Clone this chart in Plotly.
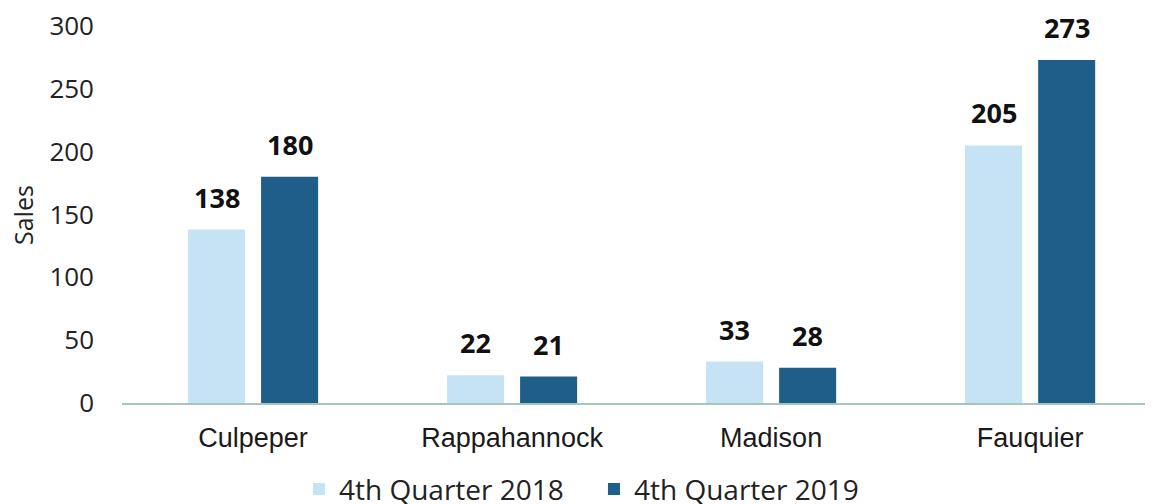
import plotly.graph_objects as go

categories = ["Culpeper", "Rappahannock", "Madison", "Fauquier"]
q4_2018 = [138, 22, 33, 205]
q4_2019 = [180, 21, 28, 273]
series_names = ["4th Quarter 2018", "4th Quarter 2019"]
colors = ["#c6e3f5", "#1e5e88"]
y_ticks = [0, 50, 100, 150, 200, 250, 300]

fig = go.Figure()
for name, vals, col in zip(series_names, [q4_2018, q4_2019], colors):
    fig.add_trace(go.Bar(x=categories, y=vals, name=name, marker_color=col,
                         marker_line_width=0))

font_family = "Open Sans, DejaVu Sans, sans-serif"
for vals, shift in [(q4_2018, -36.5), (q4_2019, 36.5)]:
    for c, v in zip(categories, vals):
        fig.add_annotation(x=c, y=v, text=f"<b>{v}</b>", showarrow=False,
                           xshift=shift, yshift=12, yanchor="bottom",
                           font=dict(family=font_family, size=27, color="#111111"))

fig.add_annotation(text="Sales", xref="paper", yref="paper", x=-0.097, y=0.5,
                   textangle=-90, showarrow=False, xanchor="center", yanchor="middle",
                   font=dict(family=font_family, size=25, color="#222222"))

fig.update_layout(
    width=1153, height=504,
    margin=dict(l=114, r=13, t=18, b=109),
    paper_bgcolor="white", plot_bgcolor="white",
    barmode="group", bargap=0.436, bargroupgap=0.219,
    font=dict(family=font_family, color="#222222"),
    legend=dict(orientation="h", x=0.46, xanchor="center", yref="container", y=0.045,
                yanchor="middle", font=dict(size=28, color="#222222"), itemwidth=30,
                entrywidth=250, entrywidthmode="pixels", traceorder="normal"),
    xaxis=dict(range=[-0.506, 3.455], showline=True, linecolor="#a3c7ba", linewidth=2,
               tickfont=dict(family="Liberation Sans, Arial, sans-serif", size=27,
                             color="#1a1a1a"),
               ticks="", showgrid=False, automargin=False, ticklabelstandoff=10),
    yaxis=dict(range=[0, 300], tickvals=y_ticks, showgrid=False, zeroline=False,
               showline=False, tickfont=dict(size=26, color="#222222"),
               ticklabelstandoff=27, automargin=False, ticklabeloverflow="allow"),
)

fig.write_html("out.html")
